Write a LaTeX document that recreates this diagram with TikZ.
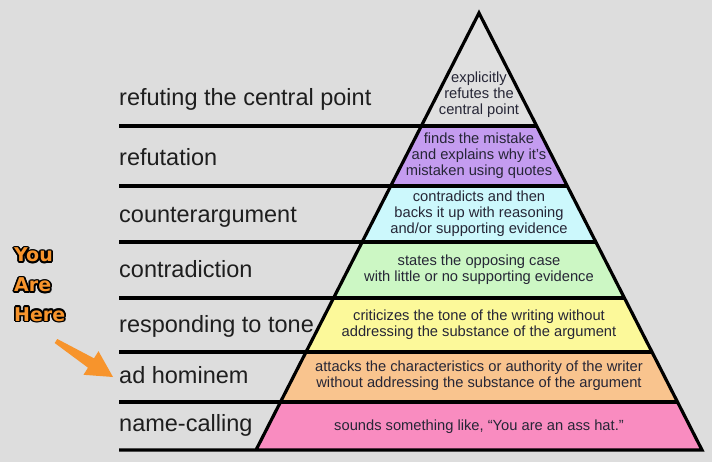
\documentclass[tikz,border=0pt]{standalone}
\usepackage{fontspec}
\setmainfont{Liberation Sans}
\newfontfamily\yahfont{DejaVu Sans}
\usetikzlibrary{calc}
\definecolor{bg}{RGB}{221,221,221}
\definecolor{ctop}{RGB}{224,224,224}
\definecolor{cpur}{RGB}{196,156,240}
\definecolor{ccya}{RGB}{204,248,252}
\definecolor{cgre}{RGB}{204,247,196}
\definecolor{cyel}{RGB}{252,249,154}
\definecolor{cora}{RGB}{249,196,142}
\definecolor{cpin}{RGB}{249,140,192}
\definecolor{yahorange}{RGB}{247,148,44}
\definecolor{labtext}{RGB}{30,30,30}
\definecolor{desctext}{RGB}{38,38,54}
\begin{document}
\begin{tikzpicture}[x=1pt,y=-1pt,
  rule/.style={line width=3.2pt,black,line join=miter},
  lab/.style={font=\fontsize{23.5}{26}\selectfont,text=labtext,inner sep=0pt,anchor=base west},
  desc/.style={font=\fontsize{14.7}{16.2}\selectfont,text=desctext,inner sep=0pt,align=center},
  yah/.style={font=\yahfont\bfseries\fontsize{19}{19}\selectfont,inner sep=0pt,anchor=base west}]
\fill[bg] (0,0) rectangle (712,462);
\useasboundingbox (0,0) rectangle (712,462);
% pyramid corners
\coordinate (apex) at (479,13);
\coordinate (L1) at (421.3,126); \coordinate (R1) at (536.7,126);
\coordinate (L2) at (390.7,186); \coordinate (R2) at (567.3,186);
\coordinate (L3) at (362.1,242); \coordinate (R3) at (595.9,242);
\coordinate (L4) at (333.6,298); \coordinate (R4) at (624.4,298);
\coordinate (L5) at (306.0,352); \coordinate (R5) at (652.0,352);
\coordinate (L6) at (280.5,402); \coordinate (R6) at (677.5,402);
\coordinate (L7) at (256,450);   \coordinate (R7) at (702,450);
% rule starts
\coordinate (s1) at (119,126);
\coordinate (s2) at (119,186);
\coordinate (s3) at (119,242);
\coordinate (s4) at (119,298);
\coordinate (s5) at (119,352);
\coordinate (s6) at (119,402);
\coordinate (s7) at (119,450);
% bands
\fill[ctop] (apex) -- (R1) -- (L1) -- cycle;
\fill[cpur] (L1) -- (R1) -- (R2) -- (L2) -- cycle;
\fill[ccya] (L2) -- (R2) -- (R3) -- (L3) -- cycle;
\fill[cgre] (L3) -- (R3) -- (R4) -- (L4) -- cycle;
\fill[cyel] (L4) -- (R4) -- (R5) -- (L5) -- cycle;
\fill[cora] (L5) -- (R5) -- (R6) -- (L6) -- cycle;
\fill[cpin] (L6) -- (R6) -- (R7) -- (L7) -- cycle;
% rules
\draw[rule] (s1) -- (R1);
\draw[rule] (s2) -- (R2);
\draw[rule] (s3) -- (R3);
\draw[rule] (s4) -- (R4);
\draw[rule] (s5) -- (R5);
\draw[rule] (s6) -- (R6);
\draw[rule] (s7) -- (R7) -- (apex) -- (L7);
% left labels
\node[lab] (l1) at (119,106) {refuting the central point};
\node[lab] (l2) at (119,166) {refutation};
\node[lab] (l3) at (119,223) {counterargument};
\node[lab] (l4) at (119,278) {contradiction};
\node[lab] (l5) at (119,332) {responding to tone};
\node[lab] (l6) at (119,383) {ad hominem};
\node[lab] (l7) at (119,431) {name-calling};
% descriptions
\node[desc] (d1) at (479,95) {explicitly\\refutes the\\central point};
\node[desc] (d2) at (479,156) {finds the mistake\\and explains why it's\\mistaken using quotes};
\node[desc] (d3) at (479,214) {contradicts and then\\backs it up with reasoning\\and/or supporting evidence};
\node[desc] (d4) at (479,270) {states the opposing case\\with little or no supporting evidence};
\node[desc] (d5) at (479,325) {criticizes the tone of the writing without\\addressing the substance of the argument};
\node[desc] (d6) at (479,376) {attacks the characteristics or authority of the writer\\without addressing the substance of the argument};
\node[desc] (d7) at (479,427) {sounds something like, “You are an ass hat.”};
% You Are Here
\foreach \w/\yy in {You/262,Are/292,Here/321}{
  \foreach \a in {0,30,...,330}
    \node[yah,text=black] (o\w\a) at ($(14,\yy)+(\a:1.8)$) {\w};
  \node[yah,text=yahorange] (yah\w) at (14,\yy) {\w};
}
% arrow
\fill[yahorange] (57.3,339.0) -- (94.0,358.3) -- (98.5,351.2) -- (113,377)
  -- (83.5,374.8) -- (88.0,367.7) -- (54.7,343.0) -- cycle;
\end{tikzpicture}
\end{document}
